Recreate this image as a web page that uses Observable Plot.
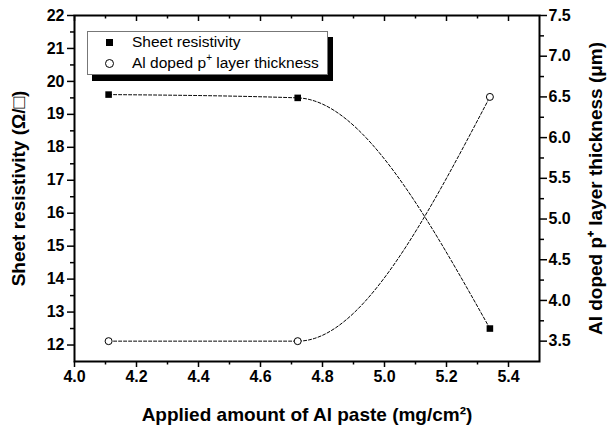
<!DOCTYPE html>
<html><head><meta charset="utf-8">
<script src="https://cdn.jsdelivr.net/npm/d3@7"></script>
<script src="https://cdn.jsdelivr.net/npm/@observablehq/plot@0.6"></script>
<style>
body{margin:0;background:#fff;}
#wrap{position:relative;width:611px;height:427px;font-family:"Liberation Sans",Arial,sans-serif;}
#legend{position:absolute;left:87px;top:31px;width:239px;height:42px;border:1px solid #777;background:#fff;box-shadow:5px 6px 0 #000;}
.row{position:absolute;left:0;height:20px;line-height:20px;font-size:15.5px;color:#000;white-space:nowrap;}
.row span.t{position:absolute;left:44px;top:0;}
.sq{position:absolute;left:18px;top:7px;width:7px;height:7px;background:#000;}
.ci{position:absolute;left:17px;top:6px;width:7px;height:7px;border:1px solid #000;border-radius:50%;background:#fff;}
sup{font-size:10px;vertical-align:0;position:relative;top:-7px;}
</style>
</head><body>
<div id="wrap">
  <div id="chart"></div>
  <div id="legend"></div>
</div>
<script>
// ---- data ----
const amount = [4.11, 4.72, 5.34];              // mg/cm^2
const sheetResistivity = [19.6, 19.5, 12.5];    // ohm/sq
const thickness = [3.5, 3.5, 6.5];              // um
const seriesNames = ["Sheet resistivity", "Al doped p<sup>+</sup> layer thickness"];
const xTicks = [4.0, 4.2, 4.4, 4.6, 4.8, 5.0, 5.2, 5.4];
const xMinorTicks = [4.1, 4.3, 4.5, 4.7, 4.9, 5.1, 5.3];
const leftTicks = [12, 13, 14, 15, 16, 17, 18, 19, 20, 21, 22];
const leftMinorTicks = [12.5, 13.5, 14.5, 15.5, 16.5, 17.5, 18.5, 19.5, 20.5, 21.5];
const rightTicks = [3.5, 4.0, 4.5, 5.0, 5.5, 6.0, 6.5, 7.0, 7.5];
const rightMinorTicks = [3.75, 4.25, 4.75, 5.25, 5.75, 6.25, 6.75, 7.25];
const leftDomain = [11.5, 22];
const rightDomain = [3.25, 7.5];
const xLabel = "Applied amount of Al paste (mg/cm²)";
const yLabel = "Sheet resistivity (Ω/□)";
const y2Label = "Al doped p⁺ layer thickness (μm)";

// map right-axis values onto the left scale
const toLeft = t => leftDomain[0] + (t - rightDomain[0]) * (leftDomain[1] - leftDomain[0]) / (rightDomain[1] - rightDomain[0]);
const fromLeft = v => rightDomain[0] + (v - leftDomain[0]) * (rightDomain[1] - rightDomain[0]) / (leftDomain[1] - leftDomain[0]);

const sheet = amount.map((x, i) => ({x, y: sheetResistivity[i]}));
const thick = amount.map((x, i) => ({x, y: toLeft(thickness[i])}));

const W = 611, H = 427, mT = 15, mR = 72, mB = 66, mL = 74;
const innerH = H - mT - mB;
const tickW = 1.5;
const f1 = d3.format(".1f");
const axisFont = {fontSize: 16, fontWeight: "bold", fill: "#000"};

const chart = Plot.plot({
  width: W, height: H,
  marginTop: mT, marginRight: mR, marginBottom: mB, marginLeft: mL,
  style: {fontFamily: "'Liberation Sans', Arial, sans-serif", background: "#fff", color: "#000", overflow: "visible"},
  x: {domain: [4.0, 5.5]},
  y: {domain: leftDomain},
  marks: [
    // lines
    Plot.line(sheet, {x: "x", y: "y", curve: "monotone-x", stroke: "#000", strokeWidth: 1, strokeDasharray: "3,2"}),
    Plot.line(thick, {x: "x", y: "y", curve: "monotone-x", stroke: "#000", strokeWidth: 1, strokeDasharray: "3,2"}),
    Plot.dot(sheet, {x: "x", y: "y", symbol: "square", r: 3.7, fill: "#000", stroke: "none"}),
    Plot.dot(thick, {x: "x", y: "y", symbol: "circle", r: 3.5, fill: "#fff", stroke: "#000", strokeWidth: 1}),
    // frame
    Plot.frame({stroke: "#000", strokeWidth: 2}),
    // bottom axis
    Plot.axisX(xTicks, {anchor: "bottom", tickSize: 6, tickPadding: 3, tickFormat: f1, strokeWidth: tickW, label: null, ...axisFont}),
    Plot.axisX(xMinorTicks, {anchor: "bottom", tickSize: 3.5, tickFormat: () => "", strokeWidth: tickW, label: null}),
    // top inward ticks
    Plot.tickX(xTicks, {x: d => d, insetBottom: innerH - 6, stroke: "#000", strokeWidth: tickW}),
    Plot.tickX(xMinorTicks, {x: d => d, insetBottom: innerH - 3.5, stroke: "#000", strokeWidth: tickW}),
    // left axis
    Plot.axisY(leftTicks, {anchor: "left", tickSize: 7, tickPadding: 3, strokeWidth: tickW, label: null, ...axisFont}),
    Plot.axisY(leftMinorTicks, {anchor: "left", tickSize: 4, tickFormat: () => "", strokeWidth: tickW, label: null}),
    // right axis
    Plot.axisY(rightTicks.map(toLeft), {anchor: "right", tickSize: 7, tickPadding: 2, tickFormat: v => f1(fromLeft(v)), strokeWidth: tickW, label: null, ...axisFont}),
    Plot.axisY(rightMinorTicks.map(toLeft), {anchor: "right", tickSize: 4, tickFormat: () => "", strokeWidth: tickW, label: null}),
    // titles
    Plot.text([yLabel], {text: d => d, frameAnchor: "left", textAnchor: "middle", lineAnchor: "middle", dx: -56, rotate: -90, fontSize: 19, fontWeight: "bold", fill: "#000"}),
    Plot.text([y2Label], {text: d => d, frameAnchor: "right", textAnchor: "middle", lineAnchor: "middle", dx: 56, rotate: -90, fontSize: 19, fontWeight: "bold", fill: "#000"}),
    Plot.text([xLabel], {text: d => d, frameAnchor: "bottom", textAnchor: "middle", lineAnchor: "middle", dy: 53, fontSize: 19, fontWeight: "bold", fill: "#000"})
  ]
});
document.getElementById("chart").appendChild(chart);

// legend
const lg = document.getElementById("legend");
lg.innerHTML = `
  <div class="row" style="top:0px;width:100%"><div class="sq"></div><span class="t">${seriesNames[0]}</span></div>
  <div class="row" style="top:21px;width:100%"><div class="ci"></div><span class="t">${seriesNames[1]}</span></div>`;
</script>
</body></html>
